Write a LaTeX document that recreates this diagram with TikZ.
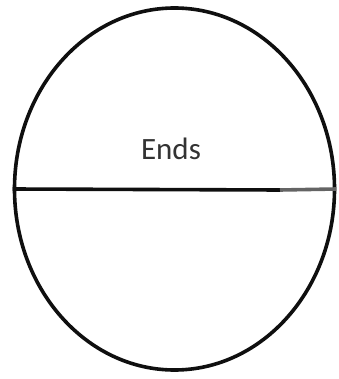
\documentclass[tikz,border=0pt]{standalone}
\usepackage{fontspec}
\setmainfont{Carlito}
\usetikzlibrary{shapes.geometric}
\definecolor{endline}{RGB}{15,15,15}
\definecolor{endfade}{RGB}{100,100,100}

\begin{document}
\begin{tikzpicture}[x=0.5pt,y=-0.5pt]
  \useasboundingbox (0,0) rectangle (338,379);
  \node[ellipse,draw=endline,line width=1.8pt,minimum width=160pt,minimum height=181pt,inner sep=0pt] (body) at (174.5,189) {};
  \node[font=\fontsize{15.5}{18}\selectfont,text=endline!85] (ends) at (171,149) {Ends};
  \coordinate (fade) at (280,190);
  \draw[endline,line width=1.8pt] (body.west) -- (fade);
  \draw[endfade,line width=1.8pt] (fade) -- (body.east);
\end{tikzpicture}
\end{document}
